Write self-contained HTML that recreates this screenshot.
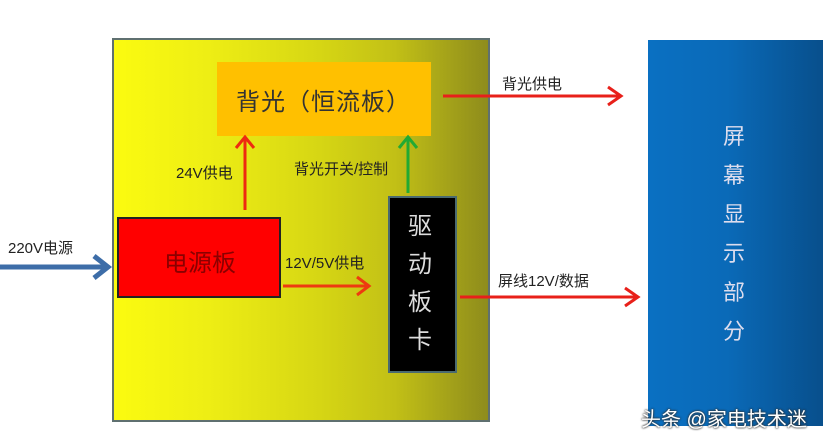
<!DOCTYPE html>
<html><head><meta charset="utf-8"><style>
body{margin:0;width:830px;height:441px;background:#fff;position:relative;overflow:hidden;font-family:"Liberation Sans","Noto Sans CJK SC",sans-serif}
.a{position:absolute;box-sizing:border-box}
.t{position:absolute;font-size:15px;color:#222;white-space:nowrap}
</style></head><body>
<div class="a" style="left:112px;top:38px;width:378px;height:384px;border:2px solid #5f7070;background:linear-gradient(to right,#fbfb10 0%,#eeee14 25%,#d6d614 55%,#c2c016 75%,#8e8c1c 100%)"></div>
<div class="a" style="left:217px;top:62px;width:214px;height:74px;background:#ffc000"></div>
<div class="t" style="left:236px;top:82px;font-size:24px;color:#333;letter-spacing:1px">背光（恒流板）</div>
<div class="a" style="left:117px;top:217px;width:164px;height:81px;background:#ff0000;border:2px solid #222"></div>
<div class="t" style="left:164px;top:243px;font-size:24px;color:#8a0000">电源板</div>
<div class="a" style="left:388px;top:196px;width:69px;height:177px;background:#000;border:2px solid #4a6a70"></div>
<div class="t" style="left:408px;top:208px;font-size:24px;color:#ddd;line-height:38px;white-space:normal;width:26px">驱动板卡</div>
<div class="a" style="left:648px;top:40px;width:175px;height:386px;background:linear-gradient(to right,#0a70c2 0%,#0a6ab8 45%,#084f8c 100%)"></div>
<div class="t" style="left:723px;top:117px;font-size:22px;color:#dde;line-height:39px;white-space:normal;width:24px">屏幕显示部分</div>
<div class="t" style="left:641px;top:403px;font-size:20px;color:#fff;text-shadow:0 0 2px #333,0 0 2px #333">头条 @家电技术迷</div>
<div class="t" style="left:8px;top:237px">220V电源</div>
<div class="t" style="left:176px;top:162px">24V供电</div>
<div class="t" style="left:294px;top:158px">背光开关/控制</div>
<div class="t" style="left:285px;top:252px">12V/5V供电</div>
<div class="t" style="left:502px;top:73px">背光供电</div>
<div class="t" style="left:498px;top:270px">屏线12V/数据</div>
<svg class="a" style="left:0;top:0" width="830" height="441">
<g fill="none" stroke-width="3">
<path d="M0 267H108M94 256L108 267L94 278" stroke="#3d6da8" stroke-width="5"/>
<path d="M245 210V138M236 148L245 137L254 148" stroke="#ee2a10"/>
<path d="M408 193V138M399 148L408 137L417 148" stroke="#22aa33"/>
<path d="M283 286H369M357 277L369 286L357 295" stroke="#ee3a10"/>
<path d="M443 96H621M608 87L621 96L608 105" stroke="#e8201a"/>
<path d="M460 297H638M625 288L638 297L625 306" stroke="#e8201a"/>
</g></svg>
</body></html>
